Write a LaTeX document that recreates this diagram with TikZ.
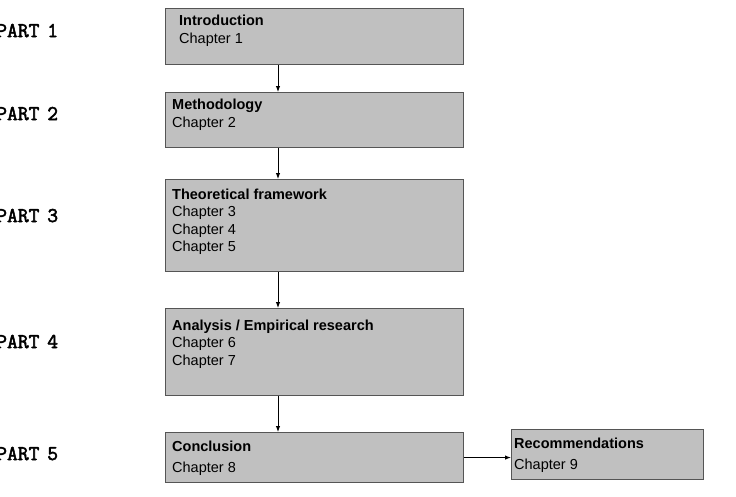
\documentclass[tikz,border=0pt]{standalone}
\usepackage{fontspec}
\setmainfont{Liberation Sans}
\newfontfamily\partfont[FakeBold=2.5]{Latin Modern Mono}
\usetikzlibrary{arrows.meta, positioning}
\definecolor{boxgray}{RGB}{192,192,192}
\definecolor{edgegray}{RGB}{85,85,85}

\begin{document}
\begin{tikzpicture}[x=1pt, y=-1pt,
    stage/.style={draw=edgegray, fill=boxgray, line width=1.1pt, anchor=north west,
        minimum width=298pt, inner sep=0pt},
    stagetext/.style={anchor=north west, align=left, inner sep=0pt,
        font=\fontsize{14.5}{17.5}\selectfont},
    partlabel/.style={anchor=base west, inner sep=0pt,
        font=\partfont\fontsize{21}{21}\selectfont},
    flow/.style={-{Latex[length=6pt,width=4.5pt]}, line width=0.9pt}]
    \useasboundingbox (0,0) rectangle (736,496);

    % Part labels
    \node[partlabel] (p1) at (-4,37) {PART\hspace{-3pt} 1};
    \node[partlabel] (p2) at (-4,120) {PART\hspace{-3pt} 2};
    \node[partlabel] (p3) at (-4,222) {PART\hspace{-3pt} 3};
    \node[partlabel] (p4) at (-4,348) {PART\hspace{-3pt} 4};
    \node[partlabel] (p5) at (-4,460) {PART\hspace{-3pt} 5};

    % Chapter boxes
    \node[stage, minimum height=56pt,
        label={[stagetext, xshift=14pt, yshift=-7pt]north west:{\textbf{Introduction}\\Chapter 1}}]
        (intro) at (165,8) {};
    \node[stage, minimum height=55pt,
        label={[stagetext, xshift=7pt, yshift=-7pt]north west:{\textbf{Methodology}\\Chapter 2}}]
        (method) at (165,92) {};
    \node[stage, minimum height=92pt,
        label={[stagetext, xshift=7pt, yshift=-9.5pt]north west:{\textbf{Theoretical framework}\\Chapter 3\\Chapter 4\\Chapter 5}}]
        (theory) at (165,179) {};
    \node[stage, minimum height=87pt,
        label={[stagetext, xshift=7pt, yshift=-11.5pt]north west:{\textbf{Analysis / Empirical research}\\Chapter 6\\Chapter 7}}]
        (analysis) at (165,308) {};
    \node[stage, minimum height=50pt,
        label={[stagetext, xshift=7pt, yshift=-9pt]north west:{\textbf{Conclusion}\\[3.5pt]Chapter 8}}]
        (concl) at (165,432) {};
    \node[stage, minimum width=192pt, minimum height=50pt,
        label={[stagetext, xshift=3pt, yshift=-9pt]north west:{\textbf{Recommendations}\\[3.5pt]Chapter 9}}]
        (recom) at (511,429) {};

    % Arrows
    \coordinate (spine) at (278,0);
    \draw[flow] (intro.south -| spine) -- (method.north -| spine);
    \draw[flow] (method.south -| spine) -- (theory.north -| spine);
    \draw[flow] (theory.south -| spine) -- (analysis.north -| spine);
    \draw[flow] (analysis.south -| spine) -- (concl.north -| spine);
    \draw[flow] (concl.east) -- (recom.west |- concl.east);
\end{tikzpicture}
\end{document}
